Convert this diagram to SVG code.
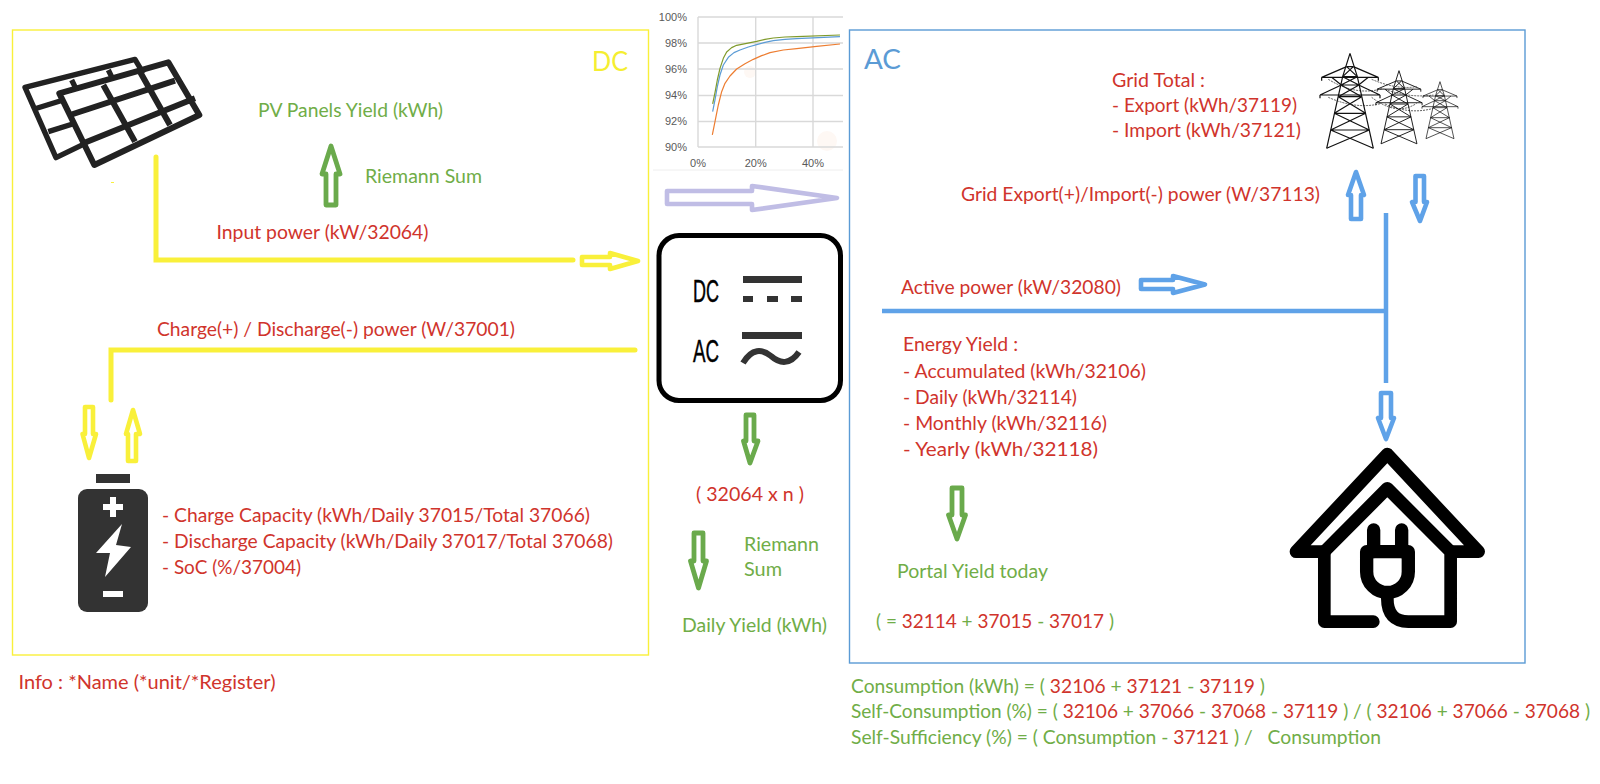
<svg xmlns="http://www.w3.org/2000/svg" width="1600" height="784" viewBox="0 0 1600 784">
<style>
text{font-family:Lato,"Noto Sans",sans-serif;font-size:18.5px;fill:#d0342c;white-space:pre}
.g,tspan.g{fill:#70ad47}
.r,tspan.r{fill:#d0342c}
.box{fill:#fff;stroke-width:1.4}
.ya{fill:#fff;stroke:#f9f03a;stroke-width:4.6;stroke-linejoin:round}
.ba{fill:#fff;stroke:#5fa2e8;stroke-width:4.6;stroke-linejoin:round}
.ga{fill:#fff;stroke:#6aaa4c;stroke-width:4.8;stroke-linejoin:round}
.pa{fill:#fff;stroke:#c0bde5;stroke-width:4.6;stroke-linejoin:round}
.yl{fill:none;stroke:#f9f03a;stroke-width:5;stroke-linecap:round;stroke-linejoin:miter}
.bl{fill:none;stroke:#5fa2e8;stroke-width:4.500}
.ax{font-size:11px;fill:#595959;font-family:"Liberation Sans",sans-serif}
.grid{stroke:#d9d9d9;stroke-width:1.4;fill:none}
.cv{fill:none;stroke-width:3.6;stroke-linejoin:round}
.twr{fill:none;stroke:#111;stroke-width:3.6}
.wire{fill:none;stroke:#222;stroke-width:2.2;stroke-dasharray:6 3}
.hs{fill:none;stroke:#000;stroke-width:38;stroke-linecap:round;stroke-linejoin:round}
.cond{font-family:"Liberation Sans",sans-serif;font-size:32px;fill:#000;stroke:#000;stroke-width:.5}
</style>
<defs>
<g id="tower" class="twr">
<path d="M0,0L-22,70L-70,285M0,0L22,70L70,285"/>
<path d="M-85,72H85M-85,72L-10,40M85,72L10,40M-90,125H90M-90,125L-26,95M90,125L26,95M-85,72V82M85,72V82M-90,125V135M90,125V135M-55,72L-26,95M55,72L26,95"/>
<path d="M-22,70H22M-10,40H10M-27,95H27M-35,130H35M-47,180H47M-58,230H58M-10,40L22,70M10,40L-22,70M-22,70L27,95M22,70L-27,95M-27,95L35,130M27,95L-35,130M-35,130L47,180M35,130L-47,180M-47,180L58,230M47,180L-58,230M-58,230L70,285M58,230L-70,285"/>
</g>
</defs>
<rect width="1600" height="784" fill="#fff"/>

<g id="dc-zone"><rect class="box" x="12.500" y="30" width="636" height="625" stroke="#f9f03a"/>
<text x="592" y="71" style="font-size:27px;fill:#f5ee30" textLength="36" lengthAdjust="spacingAndGlyphs">DC</text></g>
<g id="ac-zone"><rect class="box" x="849.500" y="30" width="675.500" height="633" stroke="#5b9bd5"/>
<text x="864" y="69" style="font-size:27px;fill:#5b9bd5" textLength="37" lengthAdjust="spacingAndGlyphs">AC</text></g>

<g id="chart">
<path d="M653,170H843" stroke="#eee" stroke-width="1"/>
<circle cx="827" cy="141" r="10" fill="#fef8f4"/><circle cx="750" cy="72" r="6" fill="#fef8f4"/>
<path class="grid" d="M698,17H843M698,43H843M698,69H843M698,95.500H843M698,121.500H843M698,147H843M698,17V147M755.700,17V147M813,17V147"/>
<g transform="translate(630,0) scale(.3333)">
<path class="cv" stroke="#ed7d31" d="M247,405L255,365L265,315L275,275L285,250L300,228L320,207L345,191L370,178L395,167L420,158L460,150L500,146L560,139L630,132"/>
<path class="cv" stroke="#5b9bd5" d="M248,335L255,300L262,260L270,225L280,195L295,172L312,158L330,150L355,141L380,134L405,127L430,122L465,118L500,116L630,110"/>
<path class="cv" stroke="#7f9a2b" d="M248,312L255,278L262,240L270,205L280,175L290,156L305,143L320,136L350,130L380,124L405,118L430,114L465,111L500,110L630,105"/>
</g>
<g>
<text class="ax" x="687" y="21" text-anchor="end">100%</text><text class="ax" x="687" y="47" text-anchor="end">98%</text><text class="ax" x="687" y="73" text-anchor="end">96%</text><text class="ax" x="687" y="99" text-anchor="end">94%</text><text class="ax" x="687" y="125" text-anchor="end">92%</text><text class="ax" x="687" y="151" text-anchor="end">90%</text>
<text class="ax" x="698" y="167" text-anchor="middle">0%</text><text class="ax" x="755.700" y="167" text-anchor="middle">20%</text><text class="ax" x="813" y="167" text-anchor="middle">40%</text>
</g>
</g>

<g id="connectors">
<path class="yl" d="M156,157V260H573"/>
<path class="yl" d="M111,400V350H635"/>
<path class="bl" d="M882,311H1386"/>
<path class="bl" d="M1386,213V383"/>
<path class="pa" d="M667,191H752V186L837,198L752,210V204H667Z"/>
<path class="ya" d="M582,257H610V253L638,261L610,269V265H582Z"/>
<path class="ya" d="M85,407H93V434H96L89,458L82.500,434H85Z"/>
<path class="ya" d="M128,461V434H126L133,410L140,434H136V461Z"/>
<path class="ba" d="M1141,280H1173V276L1205,284.500L1173,293V289H1141Z"/>
<path class="ba" d="M1351,219V195H1348L1356,172L1364,195H1361V219Z"/>
<path class="ba" d="M1415.500,176H1424V202H1427L1420,221L1412,202H1415.500Z"/>
<path class="ba" d="M1381,393H1391V418H1394L1386,439L1378,418H1381Z"/>
<path class="ga" d="M326,205V174H322L331,146L340,174H336V205Z"/>
<path class="ga" d="M746,415H754V441H758L750,463L743.500,441H746Z"/>
<path class="ga" d="M694,533H703V561H706.500L698.500,588L690.500,561H694Z"/>
<path class="ga" d="M952,488H962V515H965.500L957,539L948.500,515H952Z"/>
</g>

<g id="pv-panels" transform="translate(0,30) scale(.3333)">
<rect x="333" y="456" width="9" height="3" fill="#f9f03a"/>
<path fill="none" stroke="#222" stroke-width="18" stroke-linejoin="round" d="M178,190L505,97L598,255L283,405ZM210,255L525,152M250,340L585,205M310,165L405,335M420,125L510,285"/>
<path fill="none" stroke="#222" stroke-width="16" stroke-linejoin="round" d="M250,343L168,383L75,172L405,88L430,130M110,235L190,210M145,305L225,280M215,150L226,172M325,120L336,142"/>
</g>

<g id="inverter">
<rect x="659" y="235.500" width="181.500" height="165" rx="20" fill="#fff" stroke="#000" stroke-width="5"/>
<text class="cond" x="693" y="302" textLength="26" lengthAdjust="spacingAndGlyphs">DC</text>
<text class="cond" x="693" y="362" textLength="26" lengthAdjust="spacingAndGlyphs">AC</text>
<path fill="#333" d="M743,276H802V283H743ZM743,296H753V302H743ZM767,296H778V302H767ZM791,296H802V302H791ZM742,332H802V339H742Z"/>
<path fill="none" stroke="#333" stroke-width="6" d="M743,363C752,348 762,349 771,356C780,364 790,365 799,352"/>
</g>

<g id="battery">
<rect x="96" y="474" width="34" height="9" fill="#333"/>
<rect x="78" y="489" width="70" height="123" rx="9" fill="#333"/>
<path fill="#fff" d="M110,497H116V504H123V510H116V517H110V510H103V504H110ZM103,591H123V597H103Z"/>
<path fill="#fff" d="M122,524L116,545L131,547L105,577L110,553L96,553Z"/>
</g>

<g id="grid-towers" transform="translate(1270,40) scale(.3333)">
<use href="#tower" transform="translate(240,40)"/>
<use href="#tower" transform="translate(387,92) scale(.77)"/>
<use href="#tower" transform="translate(510,125) scale(.6)"/>
<path class="wire" d="M175,118Q260,170 340,145M175,172Q260,210 335,190M305,118Q380,150 440,140M305,172Q380,230 440,190M345,148Q420,175 490,165M345,192Q420,225 490,205"/>
</g>

<g id="house" transform="translate(1240,370) scale(.3333)">
<path class="hs" d="M168,545L442,252L716,545H632M168,545H253"/>
<path class="hs" d="M253,545L442,355L632,545V755H505Q442,755 442,685"/>
<path class="hs" d="M253,545V755H400"/>
<path class="hs" d="M401,480V545M485,480V545" style="stroke-width:40"/>
<path class="hs" d="M380,545H505V605A62,62 0 0 1 380,605Z" style="stroke-width:40"/>
</g>

<g id="labels">
<text class="g" x="258" y="117" textLength="185" lengthAdjust="spacingAndGlyphs">PV Panels Yield (kWh)</text>
<text class="g" x="365" y="183" textLength="117" lengthAdjust="spacingAndGlyphs">Riemann Sum</text>
<text x="216.500" y="239" textLength="212" lengthAdjust="spacingAndGlyphs">Input power (kW/32064)</text>
<text x="157" y="335.500" textLength="358" lengthAdjust="spacingAndGlyphs">Charge(+) / Discharge(-) power (W/37001)</text>
<text x="162" y="522" textLength="428" lengthAdjust="spacingAndGlyphs">- Charge Capacity (kWh/Daily 37015/Total 37066)</text>
<text x="162" y="548" textLength="451" lengthAdjust="spacingAndGlyphs">- Discharge Capacity (kWh/Daily 37017/Total 37068)</text>
<text x="162" y="574" textLength="139" lengthAdjust="spacingAndGlyphs">- SoC (%/37004)</text>
<text x="18.500" y="689" textLength="257" lengthAdjust="spacingAndGlyphs">Info : *Name (*unit/*Register)</text>
<text x="696" y="501" textLength="108" lengthAdjust="spacingAndGlyphs">( 32064 x n )</text>
<text class="g" x="744" y="551" textLength="75" lengthAdjust="spacingAndGlyphs">Riemann</text>
<text class="g" x="744" y="576" textLength="38" lengthAdjust="spacingAndGlyphs">Sum</text>
<text class="g" x="682" y="632" textLength="145" lengthAdjust="spacingAndGlyphs">Daily Yield (kWh)</text>
<text x="1112" y="87" textLength="93" lengthAdjust="spacingAndGlyphs">Grid Total :</text>
<text x="1112" y="112" textLength="185" lengthAdjust="spacingAndGlyphs">- Export (kWh/37119)</text>
<text x="1112" y="137" textLength="189" lengthAdjust="spacingAndGlyphs">- Import (kWh/37121)</text>
<text x="961" y="200.500" textLength="359" lengthAdjust="spacingAndGlyphs">Grid Export(+)/Import(-) power (W/37113)</text>
<text x="901" y="294" textLength="220" lengthAdjust="spacingAndGlyphs">Active power (kW/32080)</text>
<text x="903" y="351" textLength="115" lengthAdjust="spacingAndGlyphs">Energy Yield :</text>
<text x="903" y="378" textLength="243" lengthAdjust="spacingAndGlyphs">- Accumulated (kWh/32106)</text>
<text x="903" y="404" textLength="174" lengthAdjust="spacingAndGlyphs">- Daily (kWh/32114)</text>
<text x="903" y="430" textLength="204" lengthAdjust="spacingAndGlyphs">- Monthly (kWh/32116)</text>
<text x="903" y="456" textLength="195" lengthAdjust="spacingAndGlyphs">- Yearly (kWh/32118)</text>
<text class="g" x="897" y="578" textLength="151" lengthAdjust="spacingAndGlyphs">Portal Yield today</text>
<text class="g" x="876" y="627.500" textLength="238" lengthAdjust="spacingAndGlyphs">( = <tspan class="r">32114</tspan> + <tspan class="r">37015</tspan> - <tspan class="r">37017</tspan> )</text>
<text class="g" x="851" y="693" textLength="414" lengthAdjust="spacingAndGlyphs">Consumption (kWh) = ( <tspan class="r">32106</tspan> + <tspan class="r">37121</tspan> - <tspan class="r">37119</tspan> )</text>
<text class="g" x="851" y="718" textLength="739" lengthAdjust="spacingAndGlyphs">Self-Consumption (%) = ( <tspan class="r">32106</tspan> + <tspan class="r">37066</tspan> - <tspan class="r">37068</tspan> - <tspan class="r">37119</tspan> ) / ( <tspan class="r">32106</tspan> + <tspan class="r">37066</tspan> - <tspan class="r">37068</tspan> )</text>
<text class="g" x="851" y="744" textLength="530" lengthAdjust="spacingAndGlyphs">Self-Sufficiency (%) = ( Consumption - <tspan class="r">37121</tspan> ) /   Consumption</text>
</g>
</svg>
